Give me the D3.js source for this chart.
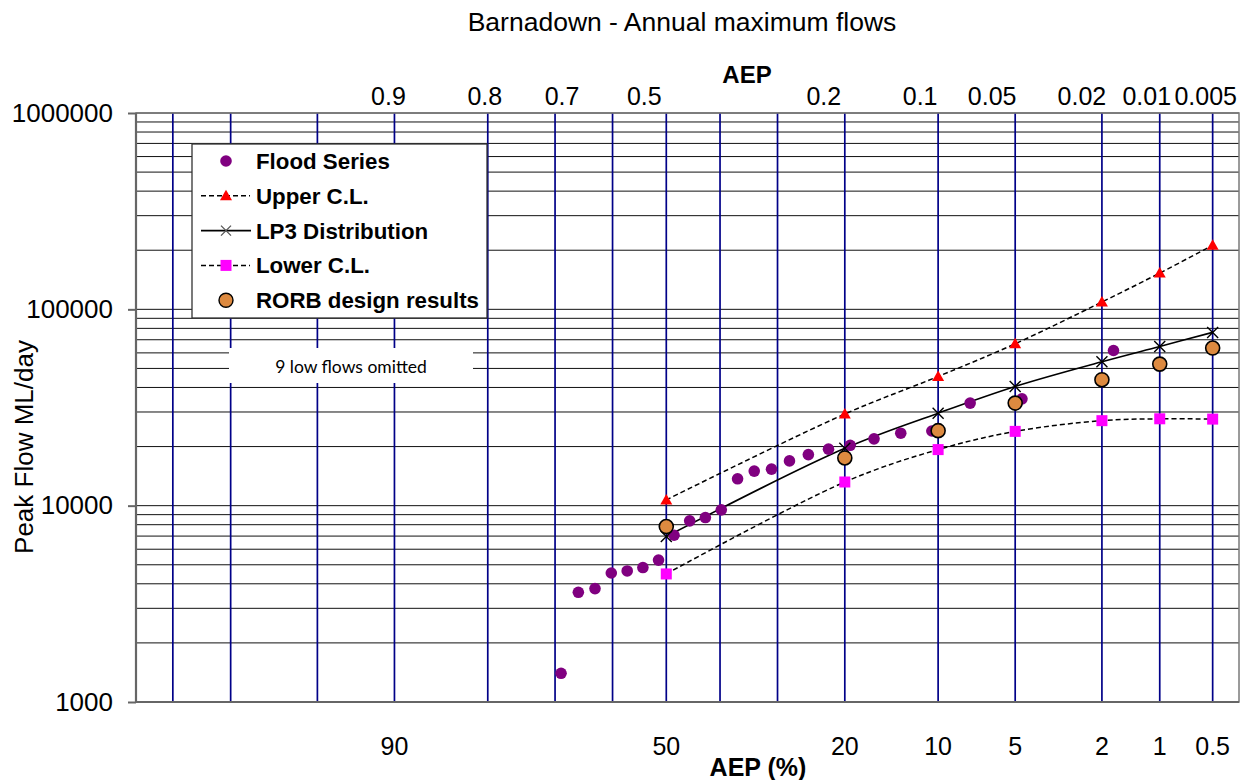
<!DOCTYPE html>
<html>
<head>
<meta charset="utf-8">
<script src="https://cdn.jsdelivr.net/npm/d3@7"></script>
<style>
  html, body { margin: 0; padding: 0; background: #fff; }
  svg { display: block; }
  text { font-family: "Liberation Sans", Arial, sans-serif; fill: #000; }
</style>
</head>
<body>
<svg id="chart" width="1241" height="780"></svg>
<script>
// ---- Data -------------------------------------------------------------
// Probability gridlines (AEP, %)
const aepGrid = [99, 98, 95, 90, 80, 70, 60, 50, 40, 30, 20, 10, 5, 2, 1, 0.5];
// Bottom axis labels (AEP, %)
const bottomLabels = [90, 50, 20, 10, 5, 2, 1, 0.5];
// Top axis labels (AEP as a fraction)
const topLabels = [0.9, 0.8, 0.7, 0.5, 0.2, 0.1, 0.05, 0.02, 0.01, 0.005];
// Log axis ticks
const flowTicks = [1000, 10000, 100000, 1000000];

// Ranked annual maximum flows (ML/day) and their plotting positions (AEP %)
const floodAep = [1.75, 4.68, 7.60, 10.53, 13.45, 16.37, 19.30, 22.22, 25.15, 28.07,
                  30.99, 33.92, 36.84, 39.77, 42.69, 45.61, 48.54, 51.46, 54.39, 57.31,
                  60.23, 63.16, 66.08, 69.01];
const floodFlow = [61700, 35000, 33300, 24000, 23400, 21900, 20300, 19400, 18200, 16900,
                   15350, 15000, 13700, 9520, 8700, 8370, 7070, 5280, 4840, 4650,
                   4540, 3780, 3620, 1400];

// Design AEPs (%) and fitted quantiles (ML/day)
const designAep = [50, 20, 10, 5, 2, 1, 0.5];
const upperCL   = [10700, 29300, 45500, 66800, 109000, 153000, 212000];
const lp3       = [6960, 19600, 29600, 40500, 54100, 64700, 76300];
const lowerCL   = [4490, 13200, 19300, 23900, 27100, 27700, 27600];
const rorb      = [7830, 17500, 24100, 33300, 43800, 52600, 63500];

// ---- Helpers ----------------------------------------------------------
// Inverse of the standard normal CDF (Acklam's rational approximation)
function probit(p) {
  const a = [-3.969683028665376e+01, 2.209460984245205e+02, -2.759285104469687e+02,
             1.383577518672690e+02, -3.066479806614716e+01, 2.506628277459239e+00];
  const b = [-5.447609879822406e+01, 1.615858368580409e+02, -1.556989798598866e+02,
             6.680131188771972e+01, -1.328068155288572e+01];
  const c = [-7.784894002430293e-03, -3.223964580411365e-01, -2.400758277161838e+00,
             -2.549671348529837e+00, 4.374664141464968e+00, 2.938163982698783e+00];
  const d = [7.784695709041462e-03, 3.224671290700398e-01, 2.445134137142996e+00,
             3.754408661907416e+00];
  const plow = 0.02425, phigh = 1 - plow;
  let q, r;
  if (p < plow) {
    q = Math.sqrt(-2 * Math.log(p));
    return (((((c[0]*q+c[1])*q+c[2])*q+c[3])*q+c[4])*q+c[5]) /
           ((((d[0]*q+d[1])*q+d[2])*q+d[3])*q+1);
  }
  if (p <= phigh) {
    q = p - 0.5; r = q * q;
    return (((((a[0]*r+a[1])*r+a[2])*r+a[3])*r+a[4])*r+a[5])*q /
           (((((b[0]*r+b[1])*r+b[2])*r+b[3])*r+b[4])*r+1);
  }
  q = Math.sqrt(-2 * Math.log(1 - p));
  return -(((((c[0]*q+c[1])*q+c[2])*q+c[3])*q+c[4])*q+c[5]) /
          ((((d[0]*q+d[1])*q+d[2])*q+d[3])*q+1);
}
// AEP (%) -> standard normal variate (rarer events to the right)
const zOf = aep => probit(1 - aep / 100);

// ---- Layout -----------------------------------------------------------
const plot = { left: 136, right: 1239, top: 113, bottom: 702 };

const svg = d3.select("#chart");

const zScale = d3.scaleLinear().domain([-2.5, 2.7]).range([plot.left, plot.right]);
const x = aep => zScale(zOf(aep));
const y = d3.scaleLog().domain([1000, 1000000]).range([plot.bottom, plot.top]);

// ---- Grid -------------------------------------------------------------
const minorFlows = [];
for (let dec = 1000; dec < 1000000; dec *= 10) {
  for (let m = 1; m <= 9; m++) minorFlows.push(dec * m);
}
minorFlows.push(1000000);

svg.append("g").attr("class", "hgrid")
  .selectAll("line").data(minorFlows).join("line")
  .attr("x1", plot.left).attr("x2", plot.right)
  .attr("y1", d => y(d)).attr("y2", d => y(d))
  .attr("stroke", "#111").attr("stroke-width", 1);

svg.append("g").attr("class", "vgrid")
  .selectAll("line").data(aepGrid).join("line")
  .attr("x1", d => x(d)).attr("x2", d => x(d))
  .attr("y1", plot.top).attr("y2", plot.bottom)
  .attr("stroke", "#000088").attr("stroke-width", 1.7);

// Plot frame
svg.append("rect")
  .attr("x", plot.left).attr("y", plot.top)
  .attr("width", plot.right - plot.left).attr("height", plot.bottom - plot.top)
  .attr("fill", "none").attr("stroke", "#7a7a7a").attr("stroke-width", 1.5);
svg.append("line")
  .attr("x1", plot.left).attr("x2", plot.left)
  .attr("y1", plot.top).attr("y2", plot.bottom)
  .attr("stroke", "#666").attr("stroke-width", 2.2);
svg.append("line")
  .attr("x1", plot.left).attr("x2", plot.right)
  .attr("y1", plot.bottom).attr("y2", plot.bottom)
  .attr("stroke", "#666").attr("stroke-width", 2.2);

// ---- Y axis -----------------------------------------------------------
const yAxis = d3.axisLeft(y).tickValues(flowTicks).tickSize(8).tickPadding(15)
  .tickFormat(d3.format("d"));
const gy = svg.append("g").attr("transform", `translate(${plot.left},0)`).call(yAxis);
gy.select(".domain").remove();
gy.selectAll(".tick line").attr("stroke", "#666").attr("stroke-width", 2);
gy.selectAll(".tick text")
  .attr("font-family", "'Liberation Sans', Arial, sans-serif")
  .attr("font-size", 26).attr("fill", "#000");

svg.append("text")
  .attr("transform", "translate(33,447) rotate(-90)")
  .attr("text-anchor", "middle")
  .attr("font-size", 26)
  .text("Peak Flow ML/day");

// ---- X labels ---------------------------------------------------------
svg.append("g").selectAll("text").data(bottomLabels).join("text")
  .attr("x", d => x(d)).attr("y", 755)
  .attr("text-anchor", "middle").attr("font-size", 25)
  .text(d => d);

svg.append("text")
  .attr("x", 758).attr("y", 776)
  .attr("text-anchor", "middle").attr("font-size", 25).attr("font-weight", "bold")
  .text("AEP (%)");

// Top labels sit just left of their gridline where the right side is crowded
const topShift = [-6, -3, 7, -22, -21, -18, -23, -20, -13, -7];
svg.append("g").selectAll("text").data(topLabels).join("text")
  .attr("x", (d, i) => x(d * 100) + topShift[i]).attr("y", 105)
  .attr("text-anchor", "middle").attr("font-size", 25)
  .text(d => d);

svg.append("text")
  .attr("x", 747).attr("y", 83)
  .attr("text-anchor", "middle").attr("font-size", 24).attr("font-weight", "bold")
  .text("AEP");

svg.append("text")
  .attr("x", 682).attr("y", 31)
  .attr("text-anchor", "middle").attr("font-size", 26.5)
  .text("Barnadown - Annual maximum flows");

// ---- Note box ---------------------------------------------------------
svg.append("rect")
  .attr("x", 229).attr("y", 348).attr("width", 244).attr("height", 35)
  .attr("fill", "#fff");
svg.append("text")
  .attr("x", 351).attr("y", 373)
  .attr("text-anchor", "middle")
  .style("font-family", "Lato, 'Open Sans', sans-serif")
  .attr("font-size", 17.5).attr("fill", "#404040")
  .text("9 low flows omitted");

// ---- Series -----------------------------------------------------------
const design = (vals) => designAep.map((a, i) => [x(a), y(vals[i])]);
const curve = d3.line().curve(d3.curveCatmullRom.alpha(0.5));

const gLines = svg.append("g");
gLines.append("path").attr("d", curve(design(upperCL)))
  .attr("fill", "none").attr("stroke", "#000").attr("stroke-width", 1.5)
  .attr("stroke-dasharray", "5,3");
gLines.append("path").attr("d", curve(design(lp3)))
  .attr("fill", "none").attr("stroke", "#000").attr("stroke-width", 1.6);
gLines.append("path").attr("d", curve(design(lowerCL)))
  .attr("fill", "none").attr("stroke", "#000").attr("stroke-width", 1.5)
  .attr("stroke-dasharray", "5,3");

// Flood series
svg.append("g").selectAll("circle").data(floodAep).join("circle")
  .attr("cx", d => x(d)).attr("cy", (d, i) => y(floodFlow[i]))
  .attr("r", 5.8).attr("fill", "#800080");

// Marker shapes
const triPath = (cx, cy, s) => `M${cx},${cy - s}L${cx + s},${cy + s * 0.75}L${cx - s},${cy + s * 0.75}Z`;
const xPath = (cx, cy, s) => `M${cx - s},${cy - s}L${cx + s},${cy + s}M${cx - s},${cy + s}L${cx + s},${cy - s}`;

svg.append("g").selectAll("path").data(design(upperCL)).join("path")
  .attr("d", d => triPath(d[0], d[1], 6)).attr("fill", "#ff0000");

svg.append("g").selectAll("path").data(design(lp3)).join("path")
  .attr("d", d => xPath(d[0], d[1], 5.5)).attr("stroke", "#000").attr("stroke-width", 1.4)
  .attr("fill", "none");

svg.append("g").selectAll("rect").data(design(lowerCL)).join("rect")
  .attr("x", d => d[0] - 5.5).attr("y", d => d[1] - 5.5)
  .attr("width", 11).attr("height", 11).attr("fill", "#ff00ff");

svg.append("g").selectAll("circle").data(design(rorb)).join("circle")
  .attr("cx", d => d[0]).attr("cy", d => d[1])
  .attr("r", 7).attr("fill", "#dd8a40").attr("stroke", "#000").attr("stroke-width", 1.6);

// ---- Legend -----------------------------------------------------------
const legend = svg.append("g");
legend.append("rect")
  .attr("x", 192).attr("y", 144).attr("width", 295).attr("height", 174)
  .attr("fill", "#fff").attr("stroke", "#333").attr("stroke-width", 1.3);

const legendItems = [
  { label: "Flood Series", kind: "dot" },
  { label: "Upper C.L.", kind: "tri" },
  { label: "LP3 Distribution", kind: "x" },
  { label: "Lower C.L.", kind: "sq" },
  { label: "RORB design results", kind: "rorb" }
];
const rowY = i => 161 + i * 34.8;
const symX = 226;
legendItems.forEach((it, i) => {
  const cy = rowY(i);
  if (it.kind === "tri" || it.kind === "sq") {
    legend.append("line").attr("x1", 201).attr("x2", 250).attr("y1", cy).attr("y2", cy)
      .attr("stroke", "#000").attr("stroke-width", 1.5).attr("stroke-dasharray", "5,3");
  }
  if (it.kind === "x") {
    legend.append("line").attr("x1", 201).attr("x2", 251).attr("y1", cy).attr("y2", cy)
      .attr("stroke", "#000").attr("stroke-width", 1.6);
  }
  if (it.kind === "dot") {
    legend.append("circle").attr("cx", symX).attr("cy", cy).attr("r", 5.8).attr("fill", "#800080");
  } else if (it.kind === "tri") {
    legend.append("path").attr("d", triPath(symX, cy, 6)).attr("fill", "#ff0000");
  } else if (it.kind === "x") {
    legend.append("path").attr("d", xPath(symX, cy, 5)).attr("stroke", "#555")
      .attr("stroke-width", 1.3).attr("fill", "none");
  } else if (it.kind === "sq") {
    legend.append("rect").attr("x", symX - 5.5).attr("y", cy - 5.5)
      .attr("width", 11).attr("height", 11).attr("fill", "#ff00ff");
  } else {
    legend.append("circle").attr("cx", symX).attr("cy", cy).attr("r", 7)
      .attr("fill", "#dd8a40").attr("stroke", "#000").attr("stroke-width", 1.4);
  }
  legend.append("text").attr("x", 256).attr("y", cy + 8)
    .attr("font-size", 22.3).attr("font-weight", "bold")
    .text(it.label);
});
</script>
</body>
</html>
